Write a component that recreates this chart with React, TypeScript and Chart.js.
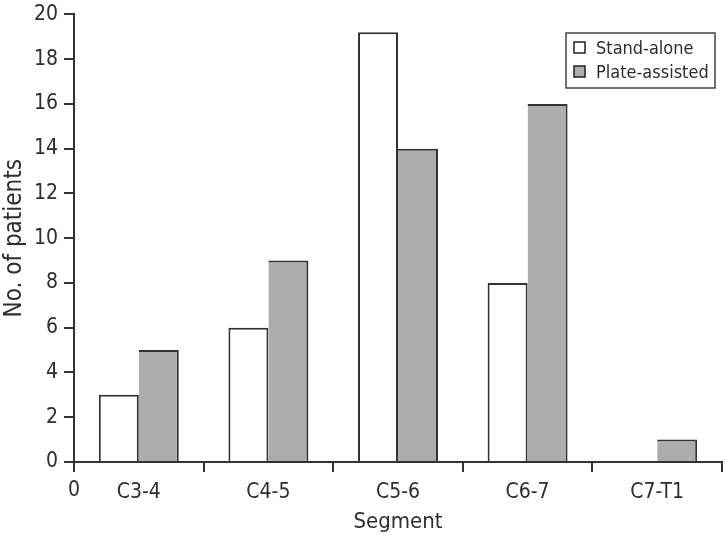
import React, { useEffect, useRef } from "react";
import { Chart, registerables } from "chart.js";

Chart.register(...registerables);

const categories = ["C3-4", "C4-5", "C5-6", "C6-7", "C7-T1"];
const standAlone = [3, 6, 19.2, 8, 0];
const plateAssisted = [5, 9, 14, 16, 1];
const seriesNames = ["Stand-alone", "Plate-assisted"];
const yTicksMax = 20;
const yStep = 2;

const FONT = "'Liberation Sans Narrow', 'Arial Narrow', 'DejaVu Sans Condensed', sans-serif";
const INK = "#2e2e2e";

const zeroLabelPlugin = {
  id: "zeroLabel",
  afterDraw(chart: any) {
    const { ctx, chartArea } = chart;
    ctx.save();
    ctx.font = `21px ${FONT}`;
    ctx.fillStyle = INK;
    ctx.textAlign = "center";
    ctx.textBaseline = "top";
    ctx.fillText("0", chartArea.left, chartArea.bottom + 18);
    ctx.restore();
  },
};

const boxLegendPlugin = {
  id: "boxLegend",
  afterDraw(chart: any) {
    const { ctx } = chart;
    const x = 566, y = 33, w = 149, h = 55;
    ctx.save();
    ctx.fillStyle = "#ffffff";
    ctx.fillRect(x, y, w, h);
    ctx.strokeStyle = "#444";
    ctx.lineWidth = 1.5;
    ctx.strokeRect(x, y, w, h);
    ctx.font = `18px ${FONT}`;
    ctx.textBaseline = "middle";
    ctx.textAlign = "left";
    chart.data.datasets.forEach((ds: any, i: number) => {
      const cy = y + 15 + i * 24;
      ctx.fillStyle = ds.backgroundColor;
      ctx.fillRect(x + 8, cy - 6, 11, 11);
      ctx.strokeStyle = "#222";
      ctx.lineWidth = 1.5;
      ctx.strokeRect(x + 8, cy - 6, 11, 11);
      ctx.fillStyle = INK;
      ctx.fillText(ds.label, x + 30, cy + 1);
    });
    ctx.restore();
  },
};

export default function App() {
  const ref = useRef<HTMLCanvasElement | null>(null);
  useEffect(() => {
    if (!ref.current) return;
    const chart = new Chart(ref.current, {
      type: "bar",
      data: {
        labels: categories,
        datasets: [
          {
            label: seriesNames[0],
            data: standAlone,
            backgroundColor: "#ffffff",
            borderColor: "#333333",
            borderWidth: { top: 2, left: 2, right: 2, bottom: 0 },
            borderSkipped: false,
            inflateAmount: 0,
            barPercentage: 1,
            categoryPercentage: 0.617,
          },
          {
            label: seriesNames[1],
            data: plateAssisted,
            backgroundColor: "#adadad",
            borderColor: "#333333",
            borderWidth: { top: 2, left: 0, right: 2, bottom: 0 },
            borderSkipped: false,
            inflateAmount: 0,
            barPercentage: 1,
            categoryPercentage: 0.617,
          },
        ],
      },
      options: {
        responsive: false,
        animation: false,
        layout: { padding: { top: 13, right: 3, left: 0, bottom: 0 } },
        plugins: {
          legend: { display: false },
          tooltip: { enabled: false },
        },
        scales: {
          x: {
            type: "category",
            afterFit: (s: any) => {
              s.height = 73;
            },
            grid: {
              offset: true,
              drawOnChartArea: false,
              tickLength: 10,
              color: "#333",
              lineWidth: 2,
            },
            border: { color: "#333", width: 2 },
            ticks: {
              font: { family: FONT, size: 21 },
              color: INK,
              padding: 8,
              maxRotation: 0,
            },
            title: {
              display: true,
              text: "Segment",
              font: { family: FONT, size: 22 },
              color: INK,
              padding: { top: 0, bottom: 0 },
            },
          },
          y: {
            min: 0,
            max: yTicksMax,
            afterFit: (s: any) => {
              s.width = 74;
            },
            grid: {
              drawOnChartArea: false,
              tickLength: 10,
              color: "#333",
              lineWidth: 2,
            },
            border: { color: "#333", width: 2 },
            ticks: {
              stepSize: yStep,
              font: { family: FONT, size: 21, lineHeight: 0.8 },
              color: INK,
              padding: 6,
            },
            title: {
              display: true,
              text: "No. of patients",
              font: { family: FONT, size: 24 },
              color: INK,
              padding: { top: 0, bottom: 0 },
            },
          },
        },
      },
      plugins: [zeroLabelPlugin, boxLegendPlugin],
    });
    return () => chart.destroy();
  }, []);
  return (
    <div style={{ position: "absolute", left: 0, top: 0, width: 725, height: 535, background: "#fff" }}>
      <canvas ref={ref} width={725} height={535} />
    </div>
  );
}
